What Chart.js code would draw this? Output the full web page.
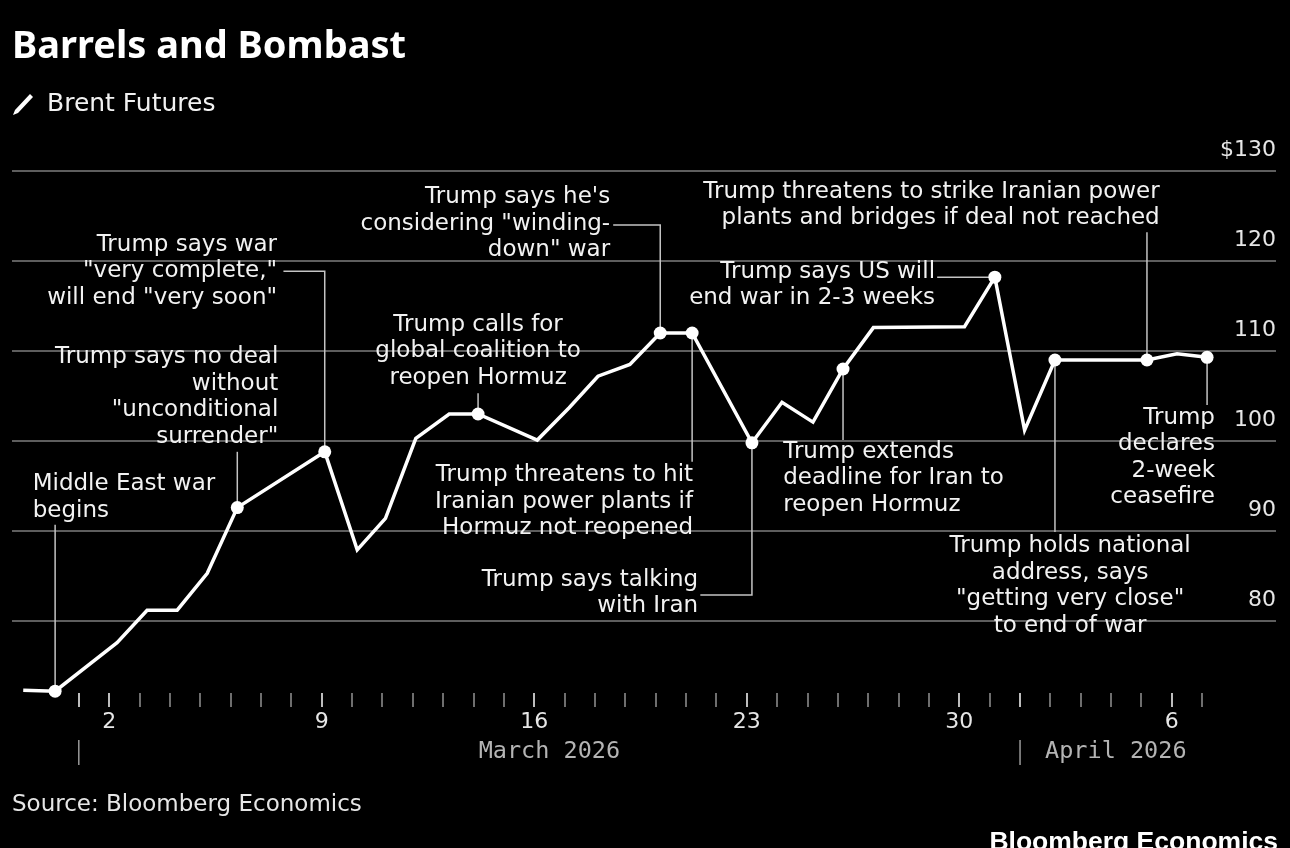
<!DOCTYPE html>
<html>
<head>
<meta charset="utf-8">
<title>Barrels and Bombast</title>
<script src="https://cdn.jsdelivr.net/npm/chart.js@4.4.1/dist/chart.umd.min.js"></script>
<style>
  html, body { margin: 0; padding: 0; background: #000; }
  #page { position: relative; width: 1290px; height: 848px; overflow: hidden; background: #000; color: #fff; }
  #plot { position: absolute; left: 0; top: 0; width: 1290px; height: 848px; }
  .title { position: absolute; left: 12px; top: 21px; font: bold 38px/44px "Noto Sans", sans-serif; white-space: nowrap; }
  .pen { position: absolute; left: 10px; top: 91px; }
  .subtitle { position: absolute; left: 47px; top: 88px; font: 25px/30px "DejaVu Sans", sans-serif; color: #f2f2f2; white-space: nowrap; }
  .source { position: absolute; left: 12px; top: 789px; font: 23px/28px "DejaVu Sans", sans-serif; color: #e6e6e6; white-space: nowrap; }
  .brand { position: absolute; right: 12px; top: 826px; font: bold 26.5px/30px "Liberation Sans", Arial, sans-serif; color: #fff; white-space: nowrap; }
</style>
</head>
<body>
<div id="page">
  <div id="plot"><canvas id="chart"></canvas></div>
  <div class="title">Barrels and Bombast</div>
  <svg class="pen" width="26" height="26" viewBox="0 0 26 26">
    <polygon points="20,3 23,6 8,22 3,24 5,19" fill="#fff"/>
  </svg>
  <div class="subtitle">Brent Futures</div>
  <div class="source">Source: Bloomberg Economics</div>
  <div class="brand">Bloomberg Economics</div>
</div>
<script>
(function () {
    'use strict';

    // x = day of March 2026 (32 = April 1), y = Brent price in $
    var days = [-0.83, 0.22, 2.26, 3.25, 4.24, 5.23, 6.22, 9.1, 10.17, 11.1, 12.1, 13.2, 14.15,
                16.1, 17.15, 18.1, 19.15, 20.15, 21.2, 23.17, 24.16, 25.18, 26.17, 27.17,
                30.17, 31.17, 32.15, 33.15, 36.18, 37.17, 38.16];
    var prices = [72.3, 72.2, 77.6, 81.2, 81.2, 85.3, 92.6, 98.8, 87.9, 91.4, 100.3, 103.0, 103.0,
                  100.1, 103.7, 107.2, 108.5, 112.0, 112.0, 99.8, 104.3, 102.1, 108.0, 112.6,
                  112.7, 118.2, 101.2, 109.0, 109.0, 109.7, 109.3];
    var markerIdx = [1, 6, 7, 12, 17, 18, 19, 22, 25, 27, 28, 30];

    var tickDays = [2, 9, 16, 23, 30, 37];
    var tickLabels = ['2', '9', '16', '23', '30', '6'];
    var yTicks = [80, 90, 100, 110, 120, 130];
    var months = ['March 2026', 'April 2026'];
    var monthStarts = [1, 32];

    // event notes: text block position (day, price of first line) and where the leader starts
    var notes = [
        {idx: 1, lines: ['Middle East war', 'begins'], align: 'left', tx: -0.52, ty: 95.2, fromPrice: 90.7},
        {idx: 6, lines: ['Trump says no deal', 'without', '"unconditional', 'surrender"'], align: 'right', tx: 7.57, ty: 109.3, fromPrice: 98.8},
        {idx: 7, lines: ['Trump says war', '"very complete,"', 'will end "very soon"'], align: 'right', tx: 7.53, ty: 121.8, fromDay: 7.74, fromPrice: 118.85},
        {idx: 12, lines: ['Trump calls for', 'global coalition to', 'reopen Hormuz'], align: 'center', tx: 14.15, ty: 112.9, fromPrice: 105.3},
        {idx: 17, lines: ["Trump says he's", 'considering "winding-', 'down" war'], align: 'right', tx: 18.5, ty: 127.1, fromDay: 18.6, fromPrice: 124.0},
        {idx: 18, lines: ['Trump threatens to hit', 'Iranian power plants if', 'Hormuz not reopened'], align: 'right', tx: 21.23, ty: 96.2, fromPrice: 97.7},
        {idx: 19, lines: ['Trump says talking', 'with Iran'], align: 'right', tx: 21.4, ty: 84.6, fromDay: 21.47, fromPrice: 82.9},
        {idx: 28, lines: ['Trump threatens to strike Iranian power', 'plants and bridges if deal not reached'], align: 'right', tx: 36.6, ty: 127.7, fromPrice: 123.2},
        {idx: 25, lines: ['Trump says US will', 'end war in 2-3 weeks'], align: 'right', tx: 29.2, ty: 118.8, fromDay: 29.27, fromPrice: 118.2},
        {idx: 22, lines: ['Trump extends', 'deadline for Iran to', 'reopen Hormuz'], align: 'left', tx: 24.2, ty: 98.8, fromPrice: 100.1},
        {idx: 27, lines: ['Trump holds national', 'address, says', '"getting very close"', 'to end of war'], align: 'center', tx: 33.65, ty: 88.3, fromPrice: 89.9},
        {idx: 30, lines: ['Trump', 'declares', '2-week', 'ceasefire'], align: 'right', tx: 38.42, ty: 102.6, fromPrice: 104.0}
    ];

    var notesPlugin = {
        id: 'notes',
        beforeDatasetsDraw: function (chart) {
            var ctx = chart.ctx, xs = chart.scales.x, ys = chart.scales.y;
            ctx.save();
            ctx.strokeStyle = '#c4c4c4';
            ctx.lineWidth = 1.5;
            notes.forEach(function (n) {
                var mx = xs.getPixelForValue(days[n.idx]);
                var my = ys.getPixelForValue(prices[n.idx]);
                var fx = n.fromDay === undefined ? mx : xs.getPixelForValue(n.fromDay);
                var fy = ys.getPixelForValue(n.fromPrice);
                ctx.beginPath();
                ctx.moveTo(fx, fy);
                ctx.lineTo(mx, fy);
                ctx.lineTo(mx, my);
                ctx.stroke();
            });

            // month row under the day ticks
            var base = chart.chartArea.bottom;
            ctx.strokeStyle = '#9a9a9a';
            ctx.fillStyle = '#b4b4b4';
            ctx.font = '23.5px "DejaVu Sans Mono", monospace';
            ctx.textBaseline = 'middle';
            for (var i = 0; i < months.length; i++) {
                var sx = xs.getPixelForValue(monthStarts[i]);
                ctx.beginPath();
                ctx.moveTo(sx, base + 47);
                ctx.lineTo(sx, base + 72);
                ctx.stroke();
                if (i === 0) {
                    ctx.textAlign = 'center';
                    ctx.fillText(months[i], (sx + xs.getPixelForValue(monthStarts[1])) / 2, base + 59);
                } else {
                    ctx.textAlign = 'left';
                    ctx.fillText(months[i], sx + 25, base + 59);
                }
            }
            ctx.restore();
        },
        afterDatasetsDraw: function (chart) {
            var ctx = chart.ctx, xs = chart.scales.x, ys = chart.scales.y;
            ctx.save();
            ctx.fillStyle = '#f2f2f2';
            ctx.font = '23px "DejaVu Sans", sans-serif';
            ctx.textBaseline = 'middle';
            notes.forEach(function (n) {
                var x = xs.getPixelForValue(n.tx);
                var y = ys.getPixelForValue(n.ty);
                ctx.textAlign = n.align;
                n.lines.forEach(function (line, k) {
                    ctx.fillText(line, x, y + k * 26.5);
                });
            });
            ctx.restore();
        }
    };

    var ctx = document.getElementById('chart');
    var chart = new Chart(ctx, {
        type: 'line',
        data: {
            datasets: [{
                label: 'Brent Futures',
                data: days.map(function (d, i) { return {x: d, y: prices[i]}; }),
                borderColor: '#ffffff',
                borderWidth: 3.5,
                tension: 0,
                clip: false,
                pointRadius: function (c) { return markerIdx.indexOf(c.dataIndex) >= 0 ? 6.5 : 0; },
                pointBackgroundColor: '#ffffff',
                pointBorderColor: '#ffffff',
                pointBorderWidth: 0,
                pointHoverRadius: 0
            }]
        },
        options: {
            responsive: true,
            maintainAspectRatio: false,
            animation: false,
            layout: {padding: {left: 12, right: 14, top: 171, bottom: 0}},
            plugins: {legend: {display: false}, tooltip: {enabled: false}},
            scales: {
                x: {
                    type: 'linear',
                    min: -1.2,
                    max: 40.43,
                    afterBuildTicks: function (s) {
                        var t = [];
                        for (var d = 1; d <= 38; d++) t.push({value: d});
                        s.ticks = t;
                    },
                    afterFit: function (s) { s.height = 155; },
                    border: {display: false},
                    grid: {
                        drawOnChartArea: false,
                        drawTicks: true,
                        tickLength: 14,
                        lineWidth: 2,
                        color: function (c) {
                            var v = c.tick ? c.tick.value : null;
                            return (tickDays.indexOf(v) >= 0 || monthStarts.indexOf(v) >= 0) ? '#bdbdbd' : '#6e6e6e';
                        }
                    },
                    ticks: {
                        autoSkip: false,
                        maxRotation: 0,
                        padding: 2,
                        color: '#e6e6e6',
                        font: {family: 'DejaVu Sans', size: 22},
                        callback: function (v) {
                            var k = tickDays.indexOf(v);
                            return k >= 0 ? tickLabels[k] : '';
                        }
                    }
                },
                y: {
                    position: 'right',
                    min: 72,
                    max: 130,
                    afterBuildTicks: function (s) {
                        s.ticks = yTicks.map(function (v) { return {value: v}; });
                    },
                    afterFit: function (s) { s.width = 0; },
                    border: {display: false},
                    grid: {color: '#5e5e5e', lineWidth: 2, drawTicks: false},
                    ticks: {
                        mirror: true,
                        padding: 0,
                        labelOffset: -21,
                        color: '#e6e6e6',
                        font: {family: 'DejaVu Sans', size: 22},
                        callback: function (v) { return v === 130 ? '$130' : String(v); }
                    }
                }
            }
        },
        plugins: [notesPlugin]
    });
})();
</script>
</body>
</html>
